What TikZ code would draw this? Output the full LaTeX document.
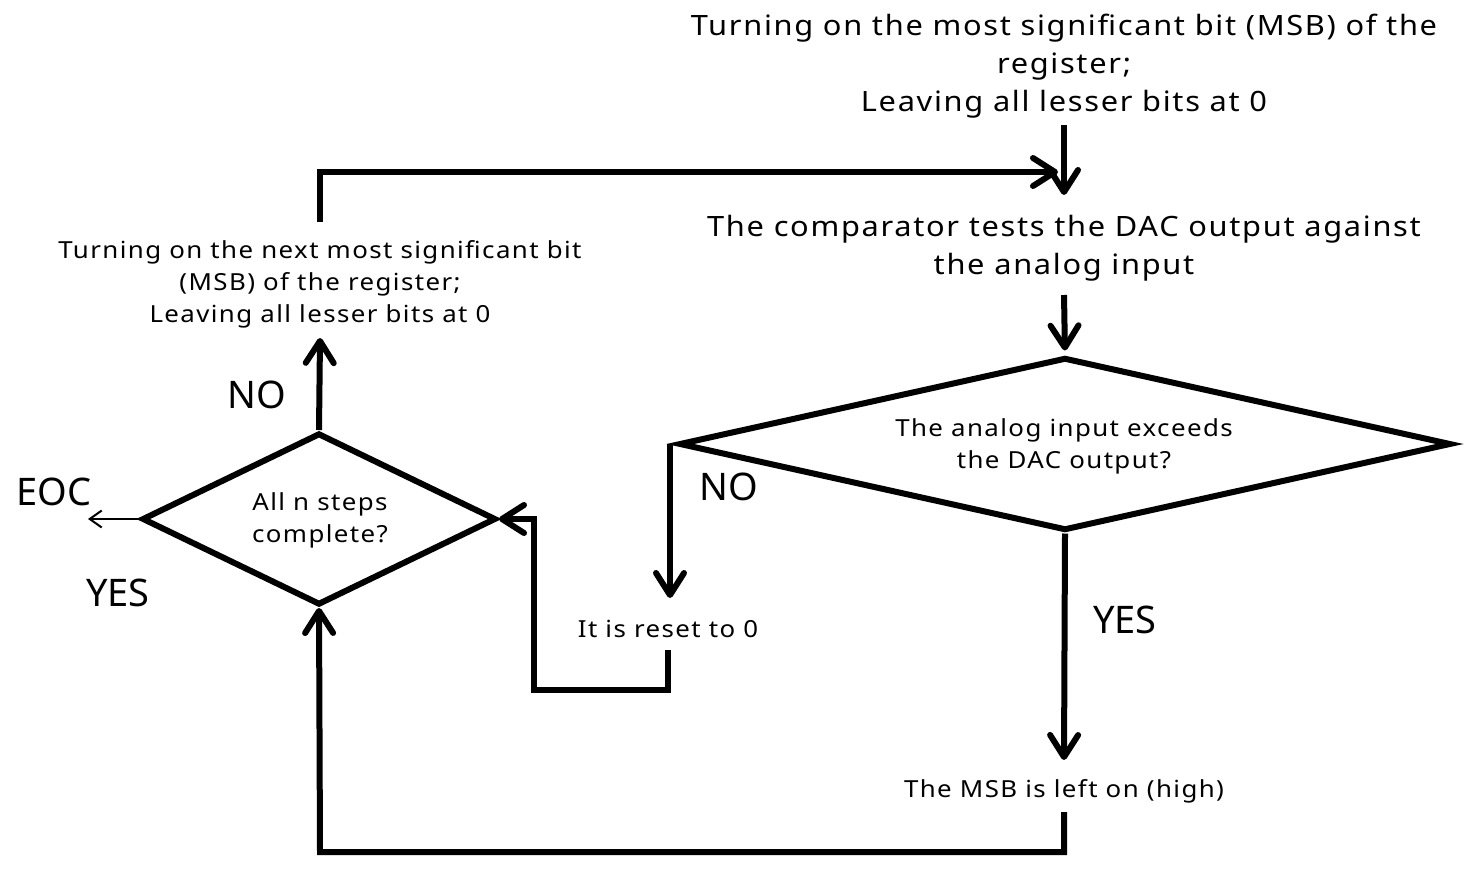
\documentclass[tikz,border=0pt]{standalone}
\usepackage{fontspec}
\setmainfont{Noto Sans}
\newfontfamily\spaced[FakeStretch=1.1,LetterSpace=6]{Noto Sans}
\usetikzlibrary{arrows.meta,shapes.geometric}
\begin{document}
\begin{tikzpicture}[x=0.5pt,y=-0.5pt,
  ln/.style={line width=3pt},
  arr/.style={line width=3pt,-{Straight Barb[length=11pt,width=14pt,round]}},
  thinarr/.style={line width=1pt,-{Straight Barb[length=6pt,width=8.5pt]}},
  big/.style={font=\spaced\fontsize{14}{19}\selectfont, align=center, inner sep=0pt},
  mid/.style={font=\spaced\fontsize{11.75}{16}\selectfont, align=center, inner sep=0pt},
  lab/.style={font=\fontsize{19}{24}\selectfont, inner sep=0pt},
  dia/.style={diamond, draw, line width=3pt, inner sep=0pt}
]
\useasboundingbox (0,0) rectangle (1481,872);

% text nodes
\node[big] (t1) at (1064,66) {Turning on the most significant bit (MSB) of the\\register;\\Leaving all lesser bits at 0};
\node[big] (t2) at (1064,248) {The comparator tests the DAC output against\\the analog input};
\node[dia, minimum width=386pt, minimum height=86.5pt] (d1) at (1065,444) {};
\node[mid] (d1t) at (1064,446.5) {The analog input exceeds\\the DAC output?};
\node[mid] (rst) at (668,629) {It is reset to 0};
\node[mid] (msb) at (1064,791) {The MSB is left on (high)};
\node[dia, minimum width=177pt, minimum height=86pt] (d2) at (319,519) {};
\node[mid] (d2t) at (320,520) {All n steps\\complete?};
\node[mid] (t3) at (320,284) {Turning on the next most significant bit\\(MSB) of the register;\\Leaving all lesser bits at 0};

% labels
\node[lab] (no1) at (257,395) {NO};
\node[lab] (no2) at (729,487) {NO};
\node[lab] (yes1) at (1125,620) {YES};
\node[lab] (eoc) at (54,492) {EOC};
\node[lab] (yes2) at (118,593) {YES};

% coordinates
\coordinate (c1) at (1064,125);
\coordinate (c2) at (1064,195);
\coordinate (c3) at (320,222);
\coordinate (c4) at (1058,172);
\coordinate (c5) at (1064,295);
\coordinate (c6) at (670,598);
\coordinate (c7) at (668,650);
\coordinate (c8) at (534,690);
\coordinate (c9) at (1064,760);
\coordinate (c10) at (1064,812);
\coordinate (c11) at (320,852);
\coordinate (c12) at (320,338);
\coordinate (c13) at (88,519);

% connectors
\draw[arr] (c1) -- (c2);
\draw[arr] (c3) |- (c4);
\draw[arr, shorten >=2pt] (c5) -- (d1.north);
\draw[arr] (d1.west -| c6) -- (c6);
\draw[arr] (c7) |- (c8) |- (d2.east);
\draw[arr] (d1.south) -- (c9);
\draw[arr] (c10) |- (c11) -- (d2.south);
\draw[arr] (d2.north) -- (c12);
\draw[thinarr] (d2.west) -- (c13);
\end{tikzpicture}
\end{document}
